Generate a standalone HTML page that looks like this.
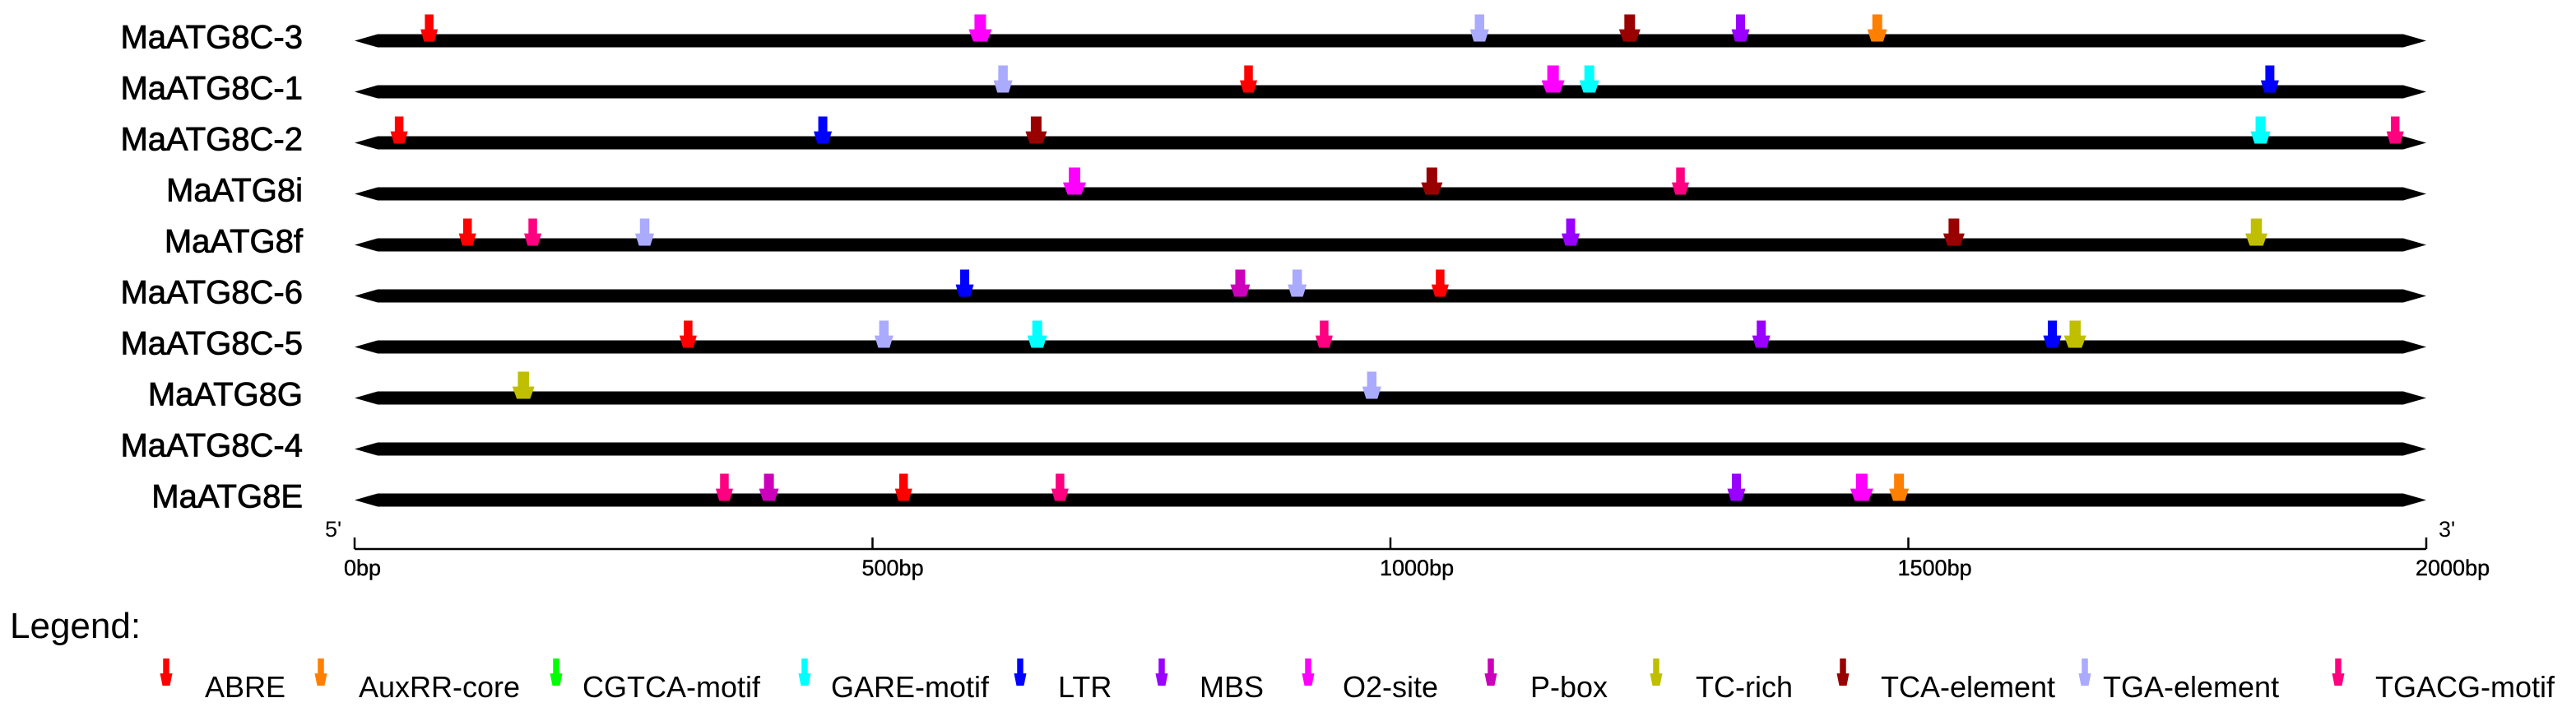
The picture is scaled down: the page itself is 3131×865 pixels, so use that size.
<!DOCTYPE html>
<html><head><meta charset="utf-8"><style>
html,body{margin:0;padding:0;background:#fff;}
svg{display:block;font-family:"Liberation Sans",Arial,sans-serif;}
</style></head>
<body>
<svg id="chart" width="3131" height="865" viewBox="0 0 3131 865" xmlns="http://www.w3.org/2000/svg">
<g id="rows"></g>
<g id="axis"></g>
<g id="legend"></g>
</svg>
<script>
const genes = ["MaATG8C-3","MaATG8C-1","MaATG8C-2","MaATG8i","MaATG8f","MaATG8C-6","MaATG8C-5","MaATG8G","MaATG8C-4","MaATG8E"];
const motifTypes = ["ABRE","AuxRR-core","CGTCA-motif","GARE-motif","LTR","MBS","O2-site","P-box","TC-rich","TCA-element","TGA-element","TGACG-motif"];
const motifColors = ["#ff0000","#ff8000","#00ff00","#00ffff","#0000ff","#9900ff","#ff00ff","#cc00bb","#bfbf00","#990000","#aaaaff","#ff0080"];
const tickValues = [0,500,1000,1500,2000];
const tickLabels = ["0bp","500bp","1000bp","1500bp","2000bp"];
// per-gene motif sites: [type, position bp]
const sitesC3 = [["ABRE",72],["O2-site",604],["TGA-element",1086],["TCA-element",1231],["MBS",1338],["AuxRR-core",1470]];
const sitesC1 = [["TGA-element",626],["ABRE",863],["O2-site",1157],["GARE-motif",1192],["LTR",1849]];
const sitesC2 = [["ABRE",43],["LTR",452],["TCA-element",658],["GARE-motif",1840],["TGACG-motif",1970]];
const sites8i = [["O2-site",695],["TCA-element",1040],["TGACG-motif",1280]];
const sites8f = [["ABRE",109],["TGACG-motif",172],["TGA-element",280],["MBS",1174],["TCA-element",1544],["TC-rich",1836]];
const sitesC6 = [["LTR",589],["P-box",855],["TGA-element",910],["ABRE",1048]];
const sitesC5 = [["ABRE",322],["TGA-element",511],["GARE-motif",659],["TGACG-motif",936],["MBS",1358],["LTR",1639],["TC-rich",1661]];
const sites8G = [["TC-rich",163],["TGA-element",982]];
const sitesC4 = [];
const sites8E = [["TGACG-motif",357],["P-box",400],["ABRE",530],["TGACG-motif",681],["MBS",1334],["O2-site",1455],["AuxRR-core",1491]];
const allSites = [sitesC3,sitesC1,sitesC2,sites8i,sites8f,sitesC6,sitesC5,sites8G,sitesC4,sites8E];

const NS="http://www.w3.org/2000/svg";
const X0=431, X1=2949, MAXBP=2000;
function xScale(bp){return X0+(X1-X0)*bp/MAXBP;}
function rowY(i){return 49.5+62*i;}
const headW={"ABRE":21,"AuxRR-core":24,"CGTCA-motif":22,"GARE-motif":24,"LTR":22,"MBS":22,"O2-site":28,"P-box":24,"TC-rich":27,"TCA-element":26,"TGA-element":23,"TGACG-motif":21};
function el(tag,attrs,parent){const e=document.createElementNS(NS,tag);for(const k in attrs)e.setAttribute(k,attrs[k]);parent.appendChild(e);return e;}
function arrowPath(cx,top,bottom,hw){
  const sw=hw*0.5, h=bottom-top, sh=top+h*0.55, bw=hw*0.6;
  return `M${cx-sw/2},${top} L${cx+sw/2},${top} L${cx+sw/2},${sh} L${cx+hw/2},${sh} L${cx+bw/2},${bottom} L${cx-bw/2},${bottom} L${cx-hw/2},${sh} L${cx-sw/2},${sh} Z`;
}
const rowsG=document.getElementById('rows');
genes.forEach((g,i)=>{
  const cy=rowY(i);
  const grp=el('g',{},rowsG);
  
  
  const t=el('text',{x:368,y:cy+9,'text-anchor':'end','font-size':40,stroke:'#000','stroke-width':0.8},grp);
  t.textContent=g;
  
  
  const b=el('path',{d:`M${X0},${cy} L${X0+28},${cy-8} L${X1-28},${cy-8} L${X1},${cy} L${X1-28},${cy+8} L${X0+28},${cy+8} Z`,fill:'#000'},grp);
  
  
  allSites[i].forEach(s=>{
    const ti=motifTypes.indexOf(s[0]);
    const a=el('path',{d:arrowPath(xScale(s[1]),cy-32,cy+1,headW[s[0]]),fill:motifColors[ti]},grp);
    
    
  });
});
// axis
const ax=document.getElementById('axis');
el('line',{x1:X0,y1:667,x2:X1,y2:667,stroke:'#000','stroke-width':2.5},ax);
tickValues.forEach((v,i)=>{
  const x=xScale(v);
  const tk=el('line',{x1:x,y1:653,x2:x,y2:667,stroke:'#000','stroke-width':2.5},ax);
  
  
  const tl=el('text',{x:x-13,y:699,'font-size':27,stroke:'#000','stroke-width':0.4},ax);
  tl.textContent=tickLabels[i];
  
  
});
const p5=el('text',{x:395,y:652,'font-size':27},ax);p5.textContent="5'";


const p3=el('text',{x:2964,y:652,'font-size':27},ax);p3.textContent="3'";


// legend
const lg=document.getElementById('legend');
const lt=el('text',{x:12,y:775,'font-size':44},lg);lt.textContent="Legend:";


const legArrowX=[202,390,676,978,1240,1412,1590,1812,2013,2240,2534,2842];
const legTextX=[249,436,708,1010,1286,1458,1632,1860,2061,2286,2556,2887];
motifTypes.forEach((m,i)=>{
  const g=el('g',{},lg);
  
  
  el('path',{d:arrowPath(legArrowX[i],800,833,15),fill:motifColors[i]},g);
  const t=el('text',{x:legTextX[i],y:847,'font-size':36},g);t.textContent=m;
});
</script>
</body></html>
